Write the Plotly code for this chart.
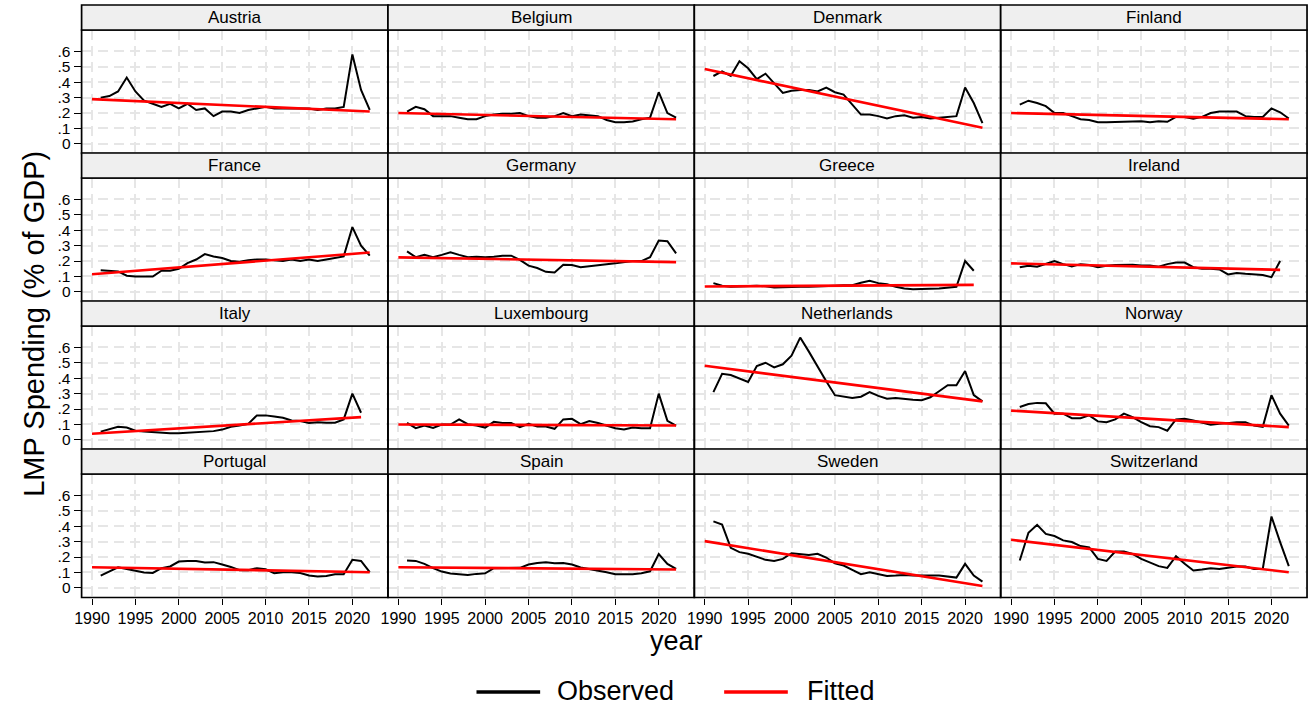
import plotly.graph_objects as go

# ---------------- data ----------------
countries = ["Austria", "Belgium", "Denmark", "Finland",
             "France", "Germany", "Greece", "Ireland",
             "Italy", "Luxembourg", "Netherlands", "Norway",
             "Portugal", "Spain", "Sweden", "Switzerland"]
first_year = 1991

austria = [0.30, 0.31, 0.34, 0.43, 0.34, 0.28, 0.26, 0.24, 0.26, 0.23, 0.26, 0.22, 0.23, 0.18, 0.21, 0.21,
           0.20, 0.22, 0.23, 0.24, 0.23, 0.23, 0.23, 0.23, 0.23, 0.22, 0.23, 0.23, 0.24, 0.58, 0.35, 0.22]
belgium = [0.21, 0.24, 0.225, 0.18, 0.18, 0.18, 0.17, 0.16, 0.16, 0.18, 0.19, 0.195, 0.195, 0.20, 0.18, 0.17,
           0.17, 0.18, 0.20, 0.18, 0.19, 0.185, 0.18, 0.155, 0.14, 0.14, 0.145, 0.16, 0.17, 0.335, 0.20, 0.17]
denmark = [0.44, 0.47, 0.44, 0.535, 0.49, 0.42, 0.455, 0.39, 0.33, 0.345, 0.35, 0.35, 0.34, 0.365, 0.335, 0.32,
           0.255, 0.19, 0.19, 0.18, 0.165, 0.18, 0.185, 0.17, 0.175, 0.165, 0.17, 0.175, 0.18, 0.365, 0.265, 0.135]
finland = [0.255, 0.28, 0.265, 0.245, 0.20, 0.20, 0.18, 0.16, 0.155, 0.14, 0.14, 0.14, 0.143, 0.145, 0.147, 0.14,
           0.147, 0.143, 0.175, 0.175, 0.163, 0.175, 0.20, 0.21, 0.21, 0.21, 0.18, 0.175, 0.175, 0.23, 0.205, 0.165]
france = [0.14, 0.137, 0.133, 0.105, 0.10, 0.10, 0.10, 0.137, 0.137, 0.15, 0.187, 0.21, 0.245, 0.23, 0.22, 0.20,
          0.195, 0.205, 0.21, 0.21, 0.205, 0.20, 0.21, 0.20, 0.21, 0.20, 0.21, 0.22, 0.23, 0.42, 0.30, 0.235]
germany = [0.263, 0.225, 0.24, 0.225, 0.24, 0.257, 0.24, 0.225, 0.228, 0.225, 0.228, 0.235, 0.235, 0.207, 0.17, 0.155,
           0.13, 0.126, 0.176, 0.174, 0.16, 0.167, 0.176, 0.18, 0.185, 0.193, 0.20, 0.20, 0.225, 0.333, 0.328, 0.25]
greece = [0.057, 0.04, 0.033, 0.037, 0.04, 0.04, 0.037, 0.028, 0.03, 0.033, 0.033, 0.033, 0.037, 0.04, 0.04, 0.043,
          0.043, 0.06, 0.072, 0.057, 0.05, 0.033, 0.022, 0.017, 0.017, 0.02, 0.022, 0.028, 0.033, 0.20, 0.137]
ireland = [0.16, 0.17, 0.163, 0.18, 0.20, 0.18, 0.165, 0.18, 0.174, 0.16, 0.17, 0.174, 0.176, 0.176, 0.172, 0.172,
           0.163, 0.18, 0.19, 0.19, 0.16, 0.15, 0.15, 0.146, 0.113, 0.122, 0.117, 0.115, 0.11, 0.096, 0.20]
italy = [0.054, 0.072, 0.085, 0.08, 0.06, 0.054, 0.05, 0.048, 0.043, 0.043, 0.046, 0.05, 0.054, 0.057, 0.067, 0.085,
         0.093, 0.104, 0.159, 0.159, 0.152, 0.143, 0.126, 0.122, 0.109, 0.115, 0.111, 0.111, 0.133, 0.30, 0.176]
luxembourg = [0.11, 0.076, 0.093, 0.078, 0.10, 0.10, 0.133, 0.102, 0.093, 0.08, 0.117, 0.11, 0.109, 0.083, 0.104, 0.087,
              0.087, 0.072, 0.133, 0.137, 0.102, 0.122, 0.11, 0.093, 0.076, 0.067, 0.08, 0.076, 0.076, 0.30, 0.124, 0.093]
netherlands = [0.31, 0.428, 0.42, 0.40, 0.376, 0.478, 0.50, 0.47, 0.49, 0.546, 0.663, 0.572, 0.474, 0.38, 0.29, 0.28,
               0.272, 0.28, 0.31, 0.285, 0.267, 0.272, 0.265, 0.26, 0.257, 0.276, 0.315, 0.354, 0.354, 0.446, 0.29, 0.25]
norway = [0.213, 0.233, 0.24, 0.237, 0.17, 0.17, 0.141, 0.141, 0.159, 0.12, 0.115, 0.133, 0.17, 0.148, 0.115, 0.089,
          0.083, 0.06, 0.133, 0.137, 0.126, 0.11, 0.098, 0.104, 0.109, 0.115, 0.115, 0.093, 0.085, 0.29, 0.17, 0.093]
portugal = [0.08, 0.108, 0.134, 0.123, 0.11, 0.10, 0.097, 0.128, 0.139, 0.171, 0.175, 0.175, 0.165, 0.167, 0.152, 0.136,
            0.115, 0.115, 0.128, 0.121, 0.095, 0.102, 0.102, 0.097, 0.08, 0.074, 0.078, 0.089, 0.089, 0.182, 0.175, 0.102]
spain = [0.178, 0.175, 0.156, 0.128, 0.106, 0.093, 0.089, 0.084, 0.091, 0.095, 0.128, 0.128, 0.128, 0.13, 0.152, 0.162,
         0.167, 0.16, 0.162, 0.152, 0.132, 0.123, 0.11, 0.102, 0.089, 0.087, 0.089, 0.095, 0.108, 0.219, 0.156, 0.123]
sweden = [0.431, 0.41, 0.26, 0.232, 0.221, 0.20, 0.182, 0.175, 0.188, 0.225, 0.219, 0.214, 0.221, 0.197, 0.16, 0.145,
          0.117, 0.089, 0.102, 0.089, 0.078, 0.08, 0.084, 0.08, 0.078, 0.08, 0.08, 0.074, 0.067, 0.156, 0.08, 0.041]
switzerland = [0.178, 0.357, 0.409, 0.35, 0.336, 0.308, 0.297, 0.271, 0.262, 0.188, 0.175, 0.236, 0.236, 0.221, 0.188, 0.167,
               0.141, 0.13, 0.206, 0.156, 0.113, 0.119, 0.128, 0.123, 0.132, 0.139, 0.139, 0.123, 0.123, 0.463, 0.297, 0.141]

observed = [austria, belgium, denmark, finland, france, germany, greece, ireland,
            italy, luxembourg, netherlands, norway, portugal, spain, sweden, switzerland]

# fitted line: value at 1990 and at the last year of the fit
fit_first_year = 1990
fit_start = [0.29, 0.20, 0.485, 0.20, 0.115, 0.224, 0.035, 0.185,
             0.04, 0.10, 0.48, 0.19, 0.134, 0.134, 0.303, 0.312]
fit_end = [0.21, 0.16, 0.105, 0.16, 0.255, 0.193, 0.046, 0.143,
           0.148, 0.093, 0.25, 0.083, 0.102, 0.119, 0.013, 0.102]
fit_last_year = [2022, 2022, 2022, 2022, 2022, 2022, 2021, 2021,
                 2021, 2022, 2022, 2022, 2022, 2022, 2022, 2022]

x_ticks = [1990, 1995, 2000, 2005, 2010, 2015, 2020]
y_ticks = [0, 0.1, 0.2, 0.3, 0.4, 0.5, 0.6]
y_ticktext = ["0", ".1", ".2", ".3", ".4", ".5", ".6"]

# ---------------- layout geometry (pixels) ----------------
W, H = 1313, 709
FONT = "Liberation Sans, Arial, Helvetica, sans-serif"
col_left = 75
col_w = 308
row_plot_top = [30, 178, 326, 474]
plot_h = 123.5
strip_h = 25

def px(x):
    return x / W

def py(y):
    return 1 - y / H

fig = go.Figure()
shapes = []
annotations = []

for i, name in enumerate(countries):
    r, c = divmod(i, 4)
    n = i + 1
    xa = "x" if n == 1 else f"x{n}"
    ya = "y" if n == 1 else f"y{n}"
    x0 = col_left + c * col_w
    x1 = x0 + col_w
    top = row_plot_top[r]
    bot = top + plot_h

    vals = observed[i]
    yrs = list(range(first_year, first_year + len(vals)))
    fig.add_trace(go.Scatter(x=yrs, y=vals, mode="lines", xaxis=xa, yaxis=ya,
                             line=dict(color="black", width=2), showlegend=False,
                             name="Observed", hoverinfo="x+y"))
    fig.add_trace(go.Scatter(x=[fit_first_year, fit_last_year[i]], y=[fit_start[i], fit_end[i]],
                             mode="lines", xaxis=xa, yaxis=ya,
                             line=dict(color="#ff0000", width=2.6), showlegend=False,
                             name="Fitted", hoverinfo="x+y"))

    xkey = "xaxis" if n == 1 else f"xaxis{n}"
    ykey = "yaxis" if n == 1 else f"yaxis{n}"
    bottom_row = (r == 3)
    left_col = (c == 0)
    fig.update_layout(**{
        xkey: dict(domain=[px(x0), px(x1)], anchor=ya, range=[1988.8, 2024.1],
                   tickvals=x_ticks, showticklabels=bottom_row,
                   ticks="outside" if bottom_row else "", ticklen=6, tickwidth=1.2, tickcolor="black",
                   tickfont=dict(family=FONT, size=16, color="black"),
                   showgrid=True, gridcolor="#e6e6e6", gridwidth=1.5, griddash="10px,6px",
                   zeroline=False, showline=False, fixedrange=True),
        ykey: dict(domain=[py(bot), py(top)], anchor=xa, range=[-0.062, 0.738],
                   tickvals=y_ticks, ticktext=y_ticktext, showticklabels=left_col,
                   ticks="outside" if left_col else "", ticklen=7, tickwidth=1.2, tickcolor="black",
                   tickfont=dict(family=FONT, size=15.5, color="black"),
                   showgrid=True, gridcolor="#e6e6e6", gridwidth=1.5, griddash="10px,6px",
                   zeroline=False, showline=False, fixedrange=True),
    })

    # panel frame
    shapes.append(dict(type="rect", xref="paper", yref="paper",
                       x0=px(x0), x1=px(x1), y0=py(bot), y1=py(top),
                       fillcolor="rgba(0,0,0,0)", line=dict(color="black", width=1.7), layer="above"))
    # strip with country name
    shapes.append(dict(type="rect", xref="paper", yref="paper",
                       x0=px(x0), x1=px(x1), y0=py(top), y1=py(top - strip_h),
                       fillcolor="#efefef", line=dict(color="black", width=1.7), layer="above"))
    annotations.append(dict(text=name, xref="paper", yref="paper",
                            x=px((x0 + x1) / 2), y=py(top - strip_h / 2),
                            xanchor="center", yanchor="middle", showarrow=False,
                            font=dict(family=FONT, size=17, color="black")))

# axis titles
annotations.append(dict(text="LMP Spending (% of GDP)", xref="paper", yref="paper",
                        x=px(27), y=py(324), textangle=-90, xanchor="center", yanchor="middle",
                        showarrow=False, font=dict(family=FONT, size=29, color="black")))
annotations.append(dict(text="year", xref="paper", yref="paper",
                        x=px(673), y=py(641), xanchor="center", yanchor="middle",
                        showarrow=False, font=dict(family=FONT, size=27, color="black")))

# legend (drawn manually)
leg_y = 692
shapes.append(dict(type="line", xref="paper", yref="paper", x0=px(472), x1=px(536),
                   y0=py(leg_y), y1=py(leg_y), line=dict(color="black", width=3.5)))
shapes.append(dict(type="line", xref="paper", yref="paper", x0=px(721), x1=px(785),
                   y0=py(leg_y), y1=py(leg_y), line=dict(color="#ff0000", width=3.5)))
annotations.append(dict(text="Observed", xref="paper", yref="paper", x=px(552), y=py(leg_y - 1),
                        xanchor="left", yanchor="middle", showarrow=False, borderpad=0,
                        font=dict(family=FONT, size=27, color="black")))
annotations.append(dict(text="Fitted", xref="paper", yref="paper", x=px(803), y=py(leg_y - 1),
                        xanchor="left", yanchor="middle", showarrow=False, borderpad=0,
                        font=dict(family=FONT, size=27, color="black")))

fig.update_layout(width=W, height=H, margin=dict(l=0, r=0, t=0, b=0),
                  paper_bgcolor="white", plot_bgcolor="white",
                  shapes=shapes, annotations=annotations, showlegend=False,
                  font=dict(family=FONT, color="black"))

fig.write_html("out.html", config={"displayModeBar": False},
               post_script="document.body.style.margin='0';document.body.style.overflow='hidden';")
